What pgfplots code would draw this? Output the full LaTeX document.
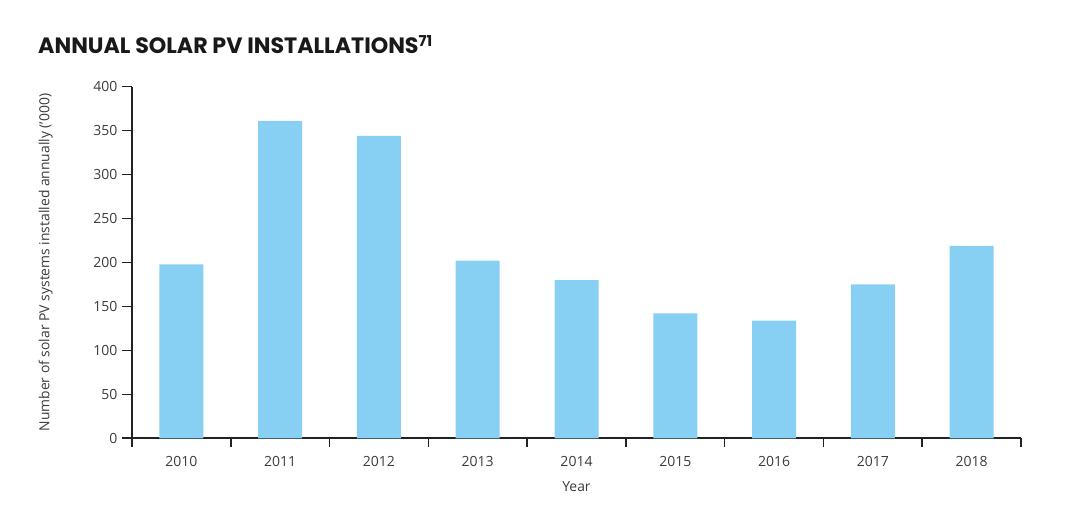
\documentclass[border=0pt]{standalone}
\usepackage{fontspec}
\setmainfont{Open Sans}
\newfontfamily\titlefont{Poppins}
\usepackage{pgfplots}
\pgfplotsset{compat=1.18}
\definecolor{barblue}{HTML}{88CFF4}
\definecolor{axisdark}{HTML}{222222}
\definecolor{labgray}{HTML}{3C3C3C}
\begin{document}
\begin{tikzpicture}
\path[use as bounding box] (0,0) rectangle (1080bp,516bp);
\node[anchor=base west, inner sep=0pt, text=black!90] at (38bp,462bp)
  {\titlefont\bfseries\fontsize{22.2bp}{26bp}\selectfont ANNUAL SOLAR PV INSTALLATIONS\textsuperscript{\fontsize{15bp}{15bp}\selectfont 71}};
\begin{axis}[
  at={(132bp,77.7bp)}, anchor=south west,
  scale only axis, width=889bp, height=351.6bp,
  xmin=0.5, xmax=9.5, ymin=0, ymax=400,
  axis lines=left,
  axis line style={-, draw=axisdark, line width=1.6bp},
  ybar, bar width=44bp,
  xtick={1,...,9},
  xticklabels={2010,2011,2012,2013,2014,2015,2016,2017,2018},
  minor xtick={0.5,1.5,...,9.5},
  ytick={0,50,...,400},
  tick align=outside,
  major tick length=10bp, minor tick length=9bp,
  xtick style={draw=none},
  minor x tick style={draw=axisdark, line width=1.6bp},
  ytick style={draw=axisdark, line width=1.6bp},
  /pgf/number format/assume math mode=true,
  ticklabel style={font=\fontsize{14bp}{16bp}\selectfont, text=labgray},
  xticklabel style={yshift=-5bp},
  yticklabel style={xshift=-1bp},
  every axis y label/.style={at={(axis description cs:-0.0970,0.5)}, rotate=90, anchor=center},
  every axis x label/.style={at={(axis description cs:0.5,-0.1365)}, anchor=center},
  label style={font=\fontsize{13.9bp}{16bp}\selectfont, text=labgray},
  ylabel={Number of solar PV systems installed annually ('000)},
  xlabel={Year},
  clip=false,
]
\addplot[fill=barblue, draw=none] coordinates {
  (1,198) (2,361) (3,344) (4,202) (5,180) (6,142) (7,134) (8,175) (9,219)
};
\end{axis}
\end{tikzpicture}
\end{document}
